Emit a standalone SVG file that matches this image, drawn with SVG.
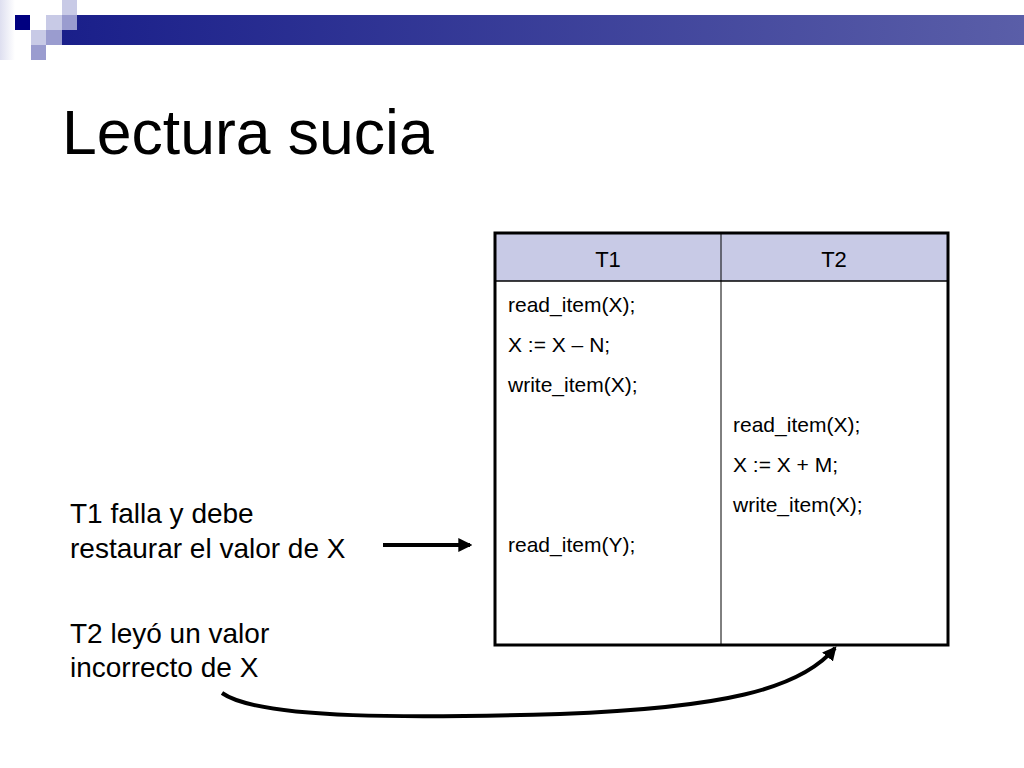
<svg xmlns="http://www.w3.org/2000/svg" width="1024" height="768" viewBox="0 0 1024 768">
<defs>
<linearGradient id="bar" x1="0" x2="1"><stop offset="0" stop-color="#1a1f8a"/><stop offset="1" stop-color="#5a5ea8"/></linearGradient>
<linearGradient id="fade" x1="0" x2="1"><stop offset="0" stop-color="#c8cae6"/><stop offset="1" stop-color="#ffffff"/></linearGradient>
<marker id="ah" markerWidth="14" markerHeight="14" refX="10" refY="6" orient="auto" markerUnits="userSpaceOnUse" viewBox="0 0 12 12"><path d="M0,0 L12,6 L0,12 z" fill="#000"/></marker>
<style>
text{font-family:"Liberation Sans",Arial,sans-serif;fill:#000}
.c{font-size:21px}
.h{font-size:22px}
.l{font-size:28px}
</style>
</defs>
<rect width="1024" height="768" fill="#fff"/>
<g id="decor">
<rect x="0" y="0" width="15" height="60" fill="url(#fade)" opacity="0.6"/>
<rect x="62" y="15" width="962" height="30" fill="url(#bar)"/>
<rect x="15" y="15" width="15" height="15" fill="#000080"/>
<rect x="62" y="0" width="15" height="15" fill="#c8cae6"/>
<rect x="46" y="15" width="16" height="15" fill="#c8cae6"/>
<rect x="62" y="15" width="15" height="15" fill="#9a9ccf"/>
<rect x="31" y="30" width="15" height="15" fill="#c8cae6"/>
<rect x="46" y="30" width="16" height="15" fill="#9a9ccf"/>
<rect x="31" y="45" width="15" height="15" fill="#9a9ccf"/>
</g>
<text x="62" y="154" font-size="62.5">Lectura sucia</text>
<g id="table">
<rect x="495" y="233" width="453" height="48" fill="#c8cae6"/>
<rect x="495" y="233" width="453" height="412" fill="none" stroke="#000" stroke-width="3"/>
<line x1="495" y1="281" x2="948" y2="281" stroke="#000" stroke-width="1.5"/>
<line x1="721" y1="233" x2="721" y2="645" stroke="#000" stroke-width="1"/>
<text class="h" x="608" y="267" text-anchor="middle">T1</text>
<text class="h" x="834" y="267" text-anchor="middle">T2</text>
<text class="c" x="508" y="312">read_item(X);</text>
<text class="c" x="508" y="352">X := X – N;</text>
<text class="c" x="508" y="392">write_item(X);</text>
<text class="c" x="508" y="552">read_item(Y);</text>
<text class="c" x="733" y="432">read_item(X);</text>
<text class="c" x="733" y="472">X := X + M;</text>
<text class="c" x="733" y="512">write_item(X);</text>
</g>
<g id="labels">
<text class="l" x="70" y="523">T1 falla y debe</text>
<text class="l" x="70" y="558">restaurar el valor de X</text>
<text class="l" x="70" y="643">T2 leyó un valor</text>
<text class="l" x="70" y="677">incorrecto de X</text>
</g>
<g id="connectors" fill="none" stroke="#000" stroke-width="4">
<line x1="383" y1="545" x2="470" y2="545" marker-end="url(#ah)"/>
<path d="M222,693 C260,720 420,718 560,714 C720,708 800,690 835,648" marker-end="url(#ah)"/>
</g>
</svg>
